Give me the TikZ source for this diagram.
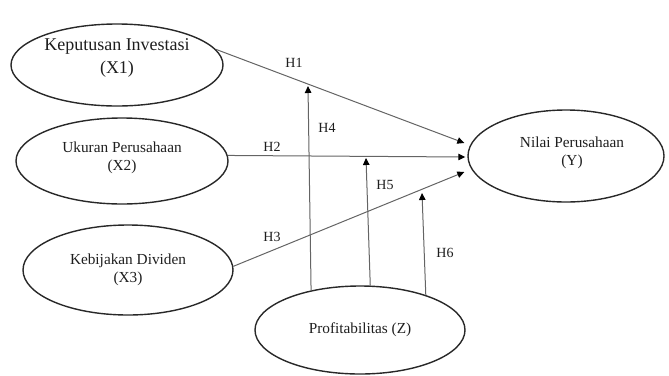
\documentclass[tikz,border=0pt]{standalone}
\usepackage{fontspec}
\setmainfont{Liberation Serif}
\usetikzlibrary{arrows.meta,shapes.geometric}
\definecolor{linegray}{RGB}{100,100,100}
\definecolor{ellgray}{RGB}{40,40,40}
\definecolor{txt}{RGB}{30,30,30}
\tikzset{
  ell/.style={ellipse, draw=ellgray, line width=1.4pt, inner sep=0pt, align=center, text=txt, font=\fontsize{15.3}{18}\selectfont},
  arr/.style={draw=linegray, line width=1pt, -{Triangle[length=7pt,width=6.5pt,fill=black,color=black]}},
  hlab/.style={font=\fontsize{14}{16}\selectfont, inner sep=0pt, text=txt}
}
\begin{document}
\begin{tikzpicture}[x=1pt,y=-1pt]
\useasboundingbox (0,0) rectangle (669,375);
% ellipses
\node[ell, minimum width=212pt, minimum height=82pt, font=\fontsize{18}{23}\selectfont] (x1) at (117,65) {Keputusan Investasi\\(X1)\\[-6pt]};
\node[ell, minimum width=212pt, minimum height=86pt] (x2) at (122,161) {Ukuran Perusahaan\\(X2)\\[-8pt]};
\node[ell, minimum width=210pt, minimum height=90pt] (x3) at (128,270) {Kebijakan Dividen\\(X3)};
\node[ell, minimum width=196pt, minimum height=92pt] (y) at (566,156) {\hspace*{12pt}Nilai Perusahaan\\\hspace*{12pt}(Y)\\[-8pt]};
\node[ell, minimum width=210pt, minimum height=88pt] (z) at (360,330) {Profitabilitas (Z)};
% moderation arrow ends
\coordinate (h4end) at (308,86);
\coordinate (h5end) at (366,158);
\coordinate (h6end) at (422,193);
% direct effects
\draw[arr] (x1.9) -- ([xshift=-3pt,yshift=13pt]y.west);
\draw[arr] (x2.3) -- ([xshift=-2pt,yshift=-1pt]y.west);
\draw[arr] (x3.2) -- ([xshift=-3pt,yshift=-16pt]y.west);
% moderation
\draw[arr] (z.141) -- (h4end);
\draw[arr] (z.77) -- (h5end);
\draw[arr] (z.28) -- (h6end);
% labels
\node[hlab] (l1) at (294,63) {H1};
\node[hlab] (l2) at (272,147) {H2};
\node[hlab] (l3) at (272,237) {H3};
\node[hlab] (l4) at (327,128) {H4};
\node[hlab] (l5) at (385,185) {H5};
\node[hlab] (l6) at (445,253) {H6};
\end{tikzpicture}
\end{document}
